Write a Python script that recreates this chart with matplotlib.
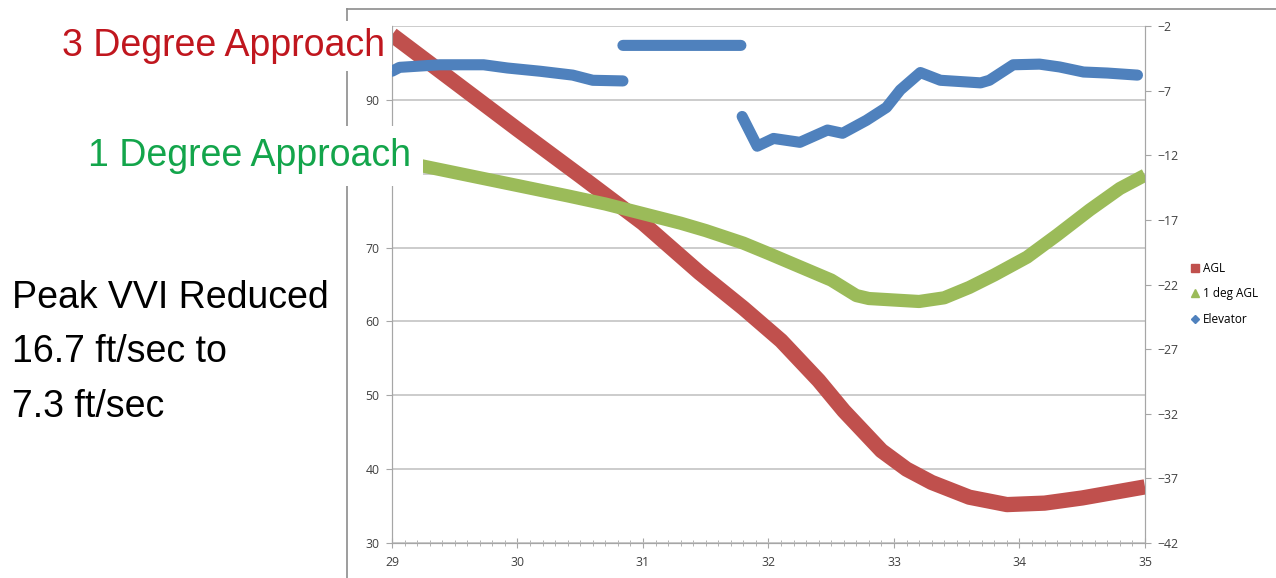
import numpy as np
import matplotlib
matplotlib.use("Agg")
import matplotlib.pyplot as plt
from matplotlib.lines import Line2D

# AGL, 3 degree approach (left axis)
agl_x = [29.0, 29.5, 30.0, 30.5, 31.0, 31.45, 31.8, 32.1, 32.4, 32.6, 32.9, 33.1,
         33.3, 33.6, 33.9, 34.2, 34.5, 34.8, 35.0]
agl_y = [98.8, 92.4, 86.0, 79.7, 73.3, 66.6, 61.8, 57.4, 52.0, 47.9, 42.5, 40.0,
         38.2, 36.2, 35.2, 35.4, 36.1, 37.0, 37.6]

# 1 deg AGL (left axis)
deg1_x = [29.2, 29.6, 30.0, 30.4, 30.7, 31.0, 31.3, 31.5, 31.8, 32.0, 32.25, 32.5,
          32.7, 32.8, 33.0, 33.2, 33.4, 33.6, 33.8, 34.06, 34.3, 34.56, 34.8, 35.0]
deg1_y = [81.2, 79.8, 78.4, 77.0, 75.9, 74.6, 73.3, 72.3, 70.6, 69.2, 67.4, 65.6,
          63.5, 63.1, 62.9, 62.7, 63.2, 64.6, 66.3, 68.7, 71.7, 75.1, 78.0, 79.8]

# Elevator (right axis), three pieces separated by gaps
elev_x = [29.0, 29.06, 29.38, 29.73, 29.92, 30.18, 30.44, 30.6, 30.84, np.nan,
          30.84, 31.78, np.nan,
          31.79, 31.91, 32.04, 32.25, 32.47, 32.59, 32.78, 32.94, 33.05, 33.21,
          33.37, 33.69, 33.76, 33.95, 34.16, 34.32, 34.51, 34.70, 34.94]
elev_y = [-5.5, -5.2, -5.0, -5.0, -5.25, -5.5, -5.8, -6.2, -6.25, np.nan,
          -3.5, -3.5, np.nan,
          -9.0, -11.3, -10.7, -11.0, -10.05, -10.3, -9.3, -8.3, -6.95, -5.6,
          -6.2, -6.4, -6.2, -5.0, -4.95, -5.17, -5.56, -5.64, -5.8]

left_ticks = [30, 40, 50, 60, 70, 80, 90, 100]
# 80 and 100 sit behind the white caption boxes in the original
left_labels = ["30", "40", "50", "60", "70", "", "90", ""]
right_ticks = [-2, -7, -12, -17, -22, -27, -32, -37, -42]
x_ticks = [29, 30, 31, 32, 33, 34, 35]

RED = "#C0504D"
GREEN = "#9BBB59"
BLUE = "#4F81BD"
W, H = 1276, 578

fig = plt.figure(figsize=(12.76, 5.78), dpi=100)
ax = fig.add_axes([392 / W, 1 - 543 / H, (1145 - 392) / W, 517 / H])
ax2 = ax.twinx()

ax.set_xlim(29, 35)
ax.set_ylim(30, 100)
ax2.set_ylim(-42, -2)

ax.plot(agl_x, agl_y, color=RED, lw=11, solid_capstyle="butt",
        solid_joinstyle="round", zorder=3)
ax.plot(deg1_x, deg1_y, color=GREEN, lw=9.5, solid_capstyle="butt",
        solid_joinstyle="round", zorder=3)
ax2.plot(elev_x, elev_y, color=BLUE, lw=8, solid_capstyle="round",
         solid_joinstyle="round", zorder=3)

ax.set_yticks(left_ticks, left_labels)
ax.set_xticks(x_ticks)
ax.set_xticks(np.arange(29, 35.01, 0.1), minor=True)
ax2.set_yticks(right_ticks)
ax.grid(axis="y", color="#C4C4C4", lw=1.2)
ax.set_axisbelow(True)

for a in (ax, ax2):
    for s in a.spines.values():
        s.set_color("#A6A6A6")
    a.spines["top"].set_visible(False)
ax.tick_params(axis="y", length=4, color="#A6A6A6", labelcolor="#404040", pad=5)
ax.tick_params(axis="x", which="major", direction="inout", length=7,
               color="#A6A6A6", labelcolor="#404040", pad=6)
ax.tick_params(axis="x", which="minor", direction="inout", length=4, color="#A6A6A6")
ax2.tick_params(axis="y", length=4, color="#A6A6A6", labelcolor="#404040", pad=5)
for lab in ax.get_xticklabels() + ax.get_yticklabels() + ax2.get_yticklabels():
    lab.set_fontfamily("Open Sans")
    lab.set_fontsize(8.8)

# outer chart frame
fig.add_artist(Line2D([347 / W, 1], [1 - 9 / H, 1 - 9 / H], color="#8C8C8C", lw=1.2))
fig.add_artist(Line2D([347 / W, 347 / W], [0, 1 - 9 / H], color="#8C8C8C", lw=1.2))

legend_items = [
    Line2D([], [], ls="none", marker="s", color=RED, markersize=6, label="AGL"),
    Line2D([], [], ls="none", marker="^", color=GREEN, markersize=6, label="1 deg AGL"),
    Line2D([], [], ls="none", marker="D", color=BLUE, markersize=4.5, label="Elevator"),
]
fig.legend(handles=legend_items, loc="center left",
           bbox_to_anchor=(1186 / W, 1 - 294 / H), frameon=False,
           prop={"family": "Open Sans", "size": 8.5}, handlelength=0.6,
           handletextpad=0.3, labelspacing=1.05, borderpad=0)

big = {"family": "Liberation Sans", "size": 27}
fig.text(62 / W, 1 - 56 / H, "3 Degree Approach", color="#C0161E", va="baseline",
         fontdict=big, zorder=10,
         bbox=dict(facecolor="white", edgecolor="none", pad=5))
fig.text(88 / W, 1 - 166 / H, "1 Degree Approach", color="#13A54B", va="baseline",
         fontdict=big, zorder=10,
         bbox=dict(facecolor="white", edgecolor="none", pad=9))
for line, base in zip(["Peak VVI Reduced", "16.7 ft/sec to", "7.3 ft/sec"],
                      [308, 362, 417]):
    fig.text(12 / W, 1 - base / H, line, color="black", va="baseline", fontdict=big)

fig.savefig("out.png", dpi=100)
